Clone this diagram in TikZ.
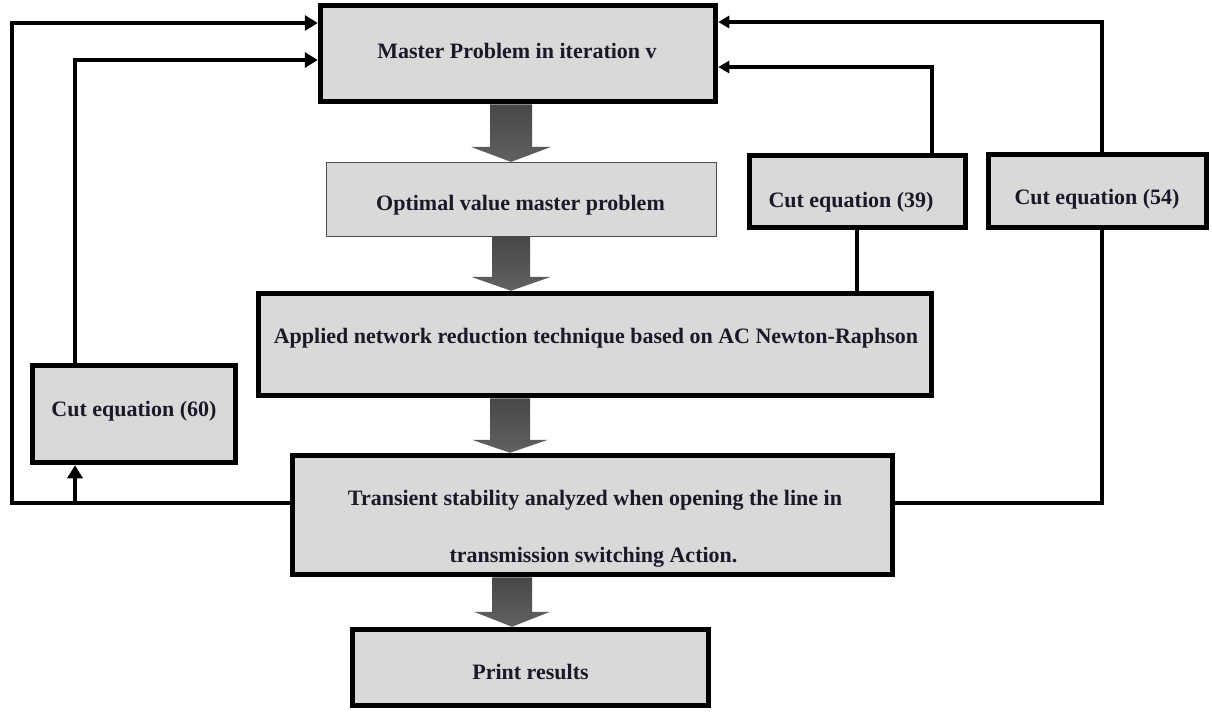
\documentclass[tikz,border=0pt]{standalone}
\usepackage{fontspec}
\setmainfont{Liberation Serif}
\usetikzlibrary{arrows.meta,calc}
\definecolor{boxfill}{RGB}{217,217,217}
\definecolor{txtc}{RGB}{25,25,40}
\newcommand\blkarr[6]{%
  \shade[top color=black!72, middle color=black, bottom color=black!62]
    let \p1=(#1.south), \p2=(#2.north) in
    (#3pt-#4pt,\y1) -- (#3pt+#4pt,\y1) -- (#3pt+#4pt,\y2+#6pt) -- (#3pt+#5pt,\y2+#6pt)
    -- (#3pt,\y2) -- (#3pt-#5pt,\y2+#6pt) -- (#3pt-#4pt,\y2+#6pt) -- cycle;}
\begin{document}
\begin{tikzpicture}[x=1pt,y=-1pt,
  box/.style={draw=black,line width=5.5pt,fill=boxfill,inner sep=0pt},
  thinbox/.style={draw=black!70,line width=1.2pt,fill=boxfill,inner sep=0pt},
  txt/.style={font=\bfseries\fontsize{22}{26}\selectfont,text=txtc,inner sep=0pt,anchor=base},
  conn/.style={line width=4.2pt},
  connr/.style={line width=3.8pt},
  tipl/.style={-{Triangle[length=13pt,width=15pt]}},
  tipr/.style={-{Triangle[length=11pt,width=12pt]}}]
\useasboundingbox[fill=white] (0,0) rectangle (1212,713);

% boxes
\node[box,minimum width=395pt,minimum height=96pt] (m) at (518,53.5) {};
\node[thinbox,minimum width=390pt,minimum height=74pt] (opt) at (521.5,199.5) {};
\node[box,minimum width=216pt,minimum height=72pt] (c39) at (857.5,191.5) {};
\node[box,minimum width=218pt,minimum height=73pt] (c54) at (1097.5,191) {};
\node[box,minimum width=673pt,minimum height=102pt] (ap) at (595,344.5) {};
\node[box,minimum width=600pt,minimum height=119pt] (tr) at (592.5,515) {};
\node[box,minimum width=356pt,minimum height=76pt] (pr) at (530.5,667.5) {};
\node[box,minimum width=203pt,minimum height=97pt] (c60) at (134,414) {};

% texts
\node[txt] (mt) at (517,58) {Master Problem in iteration v};
\node[txt] (optt) at (520.5,210) {Optimal value master problem};
\node[txt] (c39t) at (851,207) {Cut equation (39)};
\node[txt] (c54t) at (1097,204) {Cut equation (54)};
\node[txt] (apt) at (596,343) {Applied network reduction technique based on AC Newton-Raphson};
\node[txt] (trt1) at (595,505) {Transient stability analyzed when opening the line in};
\node[txt] (trt2) at (593.5,562) {transmission switching Action.};
\node[txt] (prt) at (530.5,679) {Print results};
\node[txt] (c60t) at (134,416) {Cut equation (60)};

% block arrows
\blkarr{m}{opt}{511}{21}{40}{15}
\blkarr{opt}{ap}{511}{19}{40}{14}
\blkarr{ap}{tr}{510}{20}{38}{13}
\blkarr{tr}{pr}{512}{20}{38}{15}

% connectors
\coordinate (l1) at (12,503);
\coordinate (l2) at (12,23);
\draw[conn,tipl] (tr.west |- l1) -- (l1) -- (l2) -- (l2 -| m.west);
\coordinate (k60b) at (75,503);
\draw[conn,tipl] (k60b) -- (k60b |- c60.south);
\coordinate (k60t) at (75,60);
\draw[conn,tipl] (k60t |- c60.north) -- (k60t) -- (k60t -| m.west);
\coordinate (k39) at (932,67);
\draw[connr,tipr] (k39 |- c39.north) -- (k39) -- (k39 -| m.east);
\coordinate (k39b) at (857,260);
\draw[connr] (k39b |- c39.south) -- (k39b |- ap.north);
\coordinate (k54) at (1102,22);
\draw[connr,tipr] (k54 |- c54.north) -- (k54) -- (k54 -| m.east);
\coordinate (k54b) at (1102,503);
\draw[connr] (k54b |- c54.south) -- (k54b) -- (k54b -| tr.east);
\end{tikzpicture}
\end{document}
